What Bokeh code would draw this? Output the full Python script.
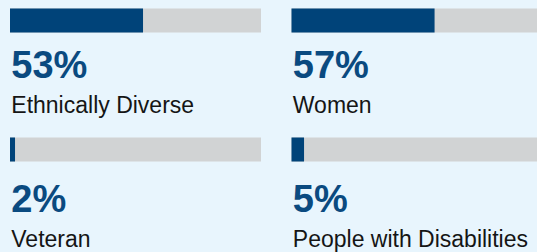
from bokeh.plotting import figure
from bokeh.models import Range1d, ColumnDataSource
from bokeh.core.properties import value
from bokeh.embed import file_html
from bokeh.resources import INLINE

# ---- data ----
categories = ["Ethnically Diverse", "Women", "Veteran", "People with Disabilities"]
percents = [53, 57, 2, 5]
pct_labels = ["53%", "57%", "2%", "5%"]

# ---- layout / style ----
BG = "#E8F5FD"
DARK = "#004379"
GRAY = "#D1D3D4"
NUM_COLOR = "#0A4A80"
FONT = "Liberation Sans"
W, H = 537, 252
COL_X = [9.5, 291]
ROW_Y = [8, 137]
NUM_Y = [64.6, 198.6]
LBL_Y = [104.6, 238.3]
BAR_W = 251
BAR_H = 24
TXT_DX = 1.3

xs0, ys0, ny, ly = [], [], [], []
for i in range(len(categories)):
    xs0.append(COL_X[i % 2])
    ys0.append(ROW_Y[i // 2])
    ny.append(NUM_Y[i // 2])
    ly.append(LBL_Y[i // 2])

src = ColumnDataSource(dict(
    left=xs0,
    full=[x + BAR_W for x in xs0],
    filled=[x + v / 100.0 * BAR_W for x, v in zip(xs0, percents)],
    top=ys0,
    bottom=[y + BAR_H for y in ys0],
    tx=[x + TXT_DX for x in xs0],
    ny=ny,
    ly=ly,
    num=pct_labels,
    cat=categories,
))

p = figure(width=W, height=H, x_range=Range1d(0, W), y_range=Range1d(H, 0),
           output_backend="svg", toolbar_location=None, min_border=0,
           background_fill_color=BG, border_fill_color=BG, outline_line_color=None)
p.axis.visible = False
p.grid.visible = False

p.quad(left="left", right="full", top="top", bottom="bottom", source=src,
       fill_color=GRAY, line_color=None)
p.quad(left="left", right="filled", top="top", bottom="bottom", source=src,
       fill_color=DARK, line_color=None)

p.text(x="tx", y="ny", text="num", source=src, text_font=value(FONT),
       text_font_style="bold", text_font_size="38px", text_color=NUM_COLOR,
       text_baseline="alphabetic", text_align="left")
p.text(x="tx", y="ly", text="cat", source=src, text_font=value(FONT),
       text_font_size="23px", text_color="#151515",
       text_baseline="alphabetic", text_align="left")

html = file_html(p, INLINE)
html = html.replace("</head>", "<style>html,body{background:%s;}</style></head>" % BG, 1)
open("out.html", "w").write(html)
